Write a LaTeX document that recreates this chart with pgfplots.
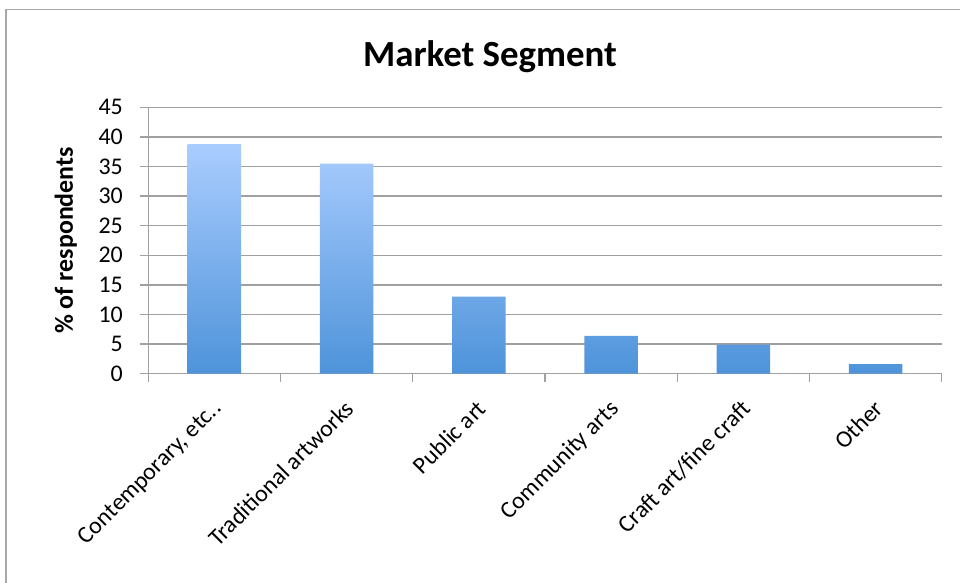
\documentclass[border=0pt]{standalone}
\usepackage{fontspec}
\setmainfont{Carlito}
\usepackage{pgfplots}
\pgfplotsset{compat=1.18}
\definecolor{gridc}{HTML}{A0A0A0}
\definecolor{framec}{HTML}{A8A8A8}
\definecolor{bartop}{RGB}{170,205,255}
\definecolor{barbot}{RGB}{78,147,218}
\begin{document}
\begin{tikzpicture}
\path[use as bounding box] (0bp,0bp) rectangle (960bp,583bp);
\draw[framec, line width=1.3bp] (6bp,0bp) -- (6bp,573.7bp) -- (960bp,573.7bp);
\node[font=\fontsize{37}{44}\selectfont\bfseries, anchor=base] at (490bp,516bp) {Market Segment};
\begin{axis}[
  at={(148.3bp,209.3bp)}, anchor=south west,
  scale only axis, width=793.4bp, height=266.4bp,
  xmin=-0.5, xmax=5.5, ymin=0, ymax=45,
  ytick={0,5,...,45},
  xtick={-0.5,0.5,...,5.5},
  xticklabels={,,,,,,,},
  extra x ticks={0,1,2,3,4,5},
  extra x tick labels={Contemporary{,} etc..,Traditional artworks,Public art,Community arts,Craft art/fine craft,Other},
  extra x tick style={major tick length=0pt, grid=none,
    xticklabel style={font=\fontsize{24}{29}\selectfont, xshift=-3bp, yshift=-20bp, rotate=45, anchor=north east}},
  axis lines*=left,
  axis line style={gridc, line width=1.3bp},
  ymajorgrids, grid style={gridc, line width=1.3bp},
  tick align=outside,
  major tick length=8bp,
  tick style={gridc, line width=1.3bp},
  /pgf/number format/assume math mode=true,
  yticklabel style={font=\fontsize{24}{29}\selectfont, xshift=-14bp},
  ylabel={\bfseries\% of respondents},
  ylabel style={font=\fontsize{26}{31}\selectfont, at={(axis description cs:-0.1040,0.5)}, anchor=center},
  clip=false,
]
\addplot[ybar, bar width=53.4bp, draw=none, top color=bartop, bottom color=barbot]
  coordinates {(0,38.8) (1,35.5) (2,13.0) (3,6.4) (4,4.9) (5,1.6)};
\end{axis}
\end{tikzpicture}
\end{document}
